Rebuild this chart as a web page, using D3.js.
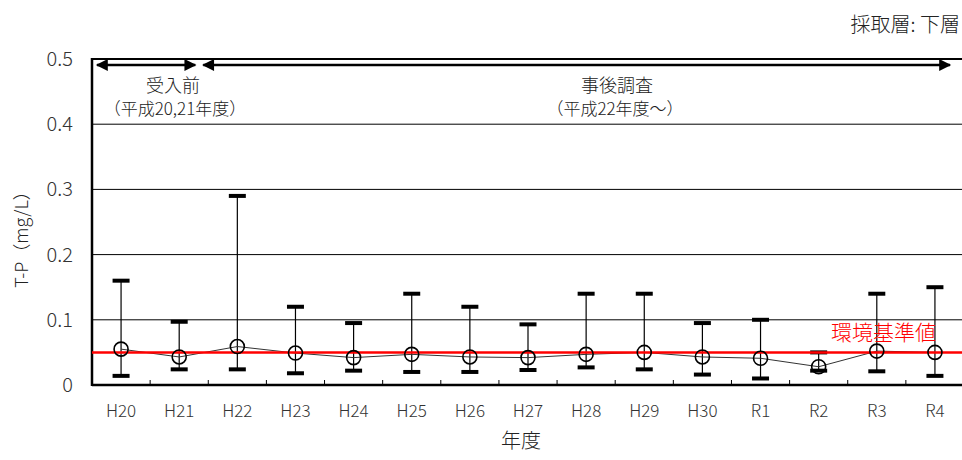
<!DOCTYPE html>
<html>
<head>
<meta charset="utf-8">
<script src="https://cdn.jsdelivr.net/npm/d3@7"></script>
<style>
  body { margin: 0; background: #fff; }
  text { font-family: "Noto Sans CJK JP", "Liberation Sans", sans-serif; font-weight: 300; }
</style>
</head>
<body>
<svg width="962" height="460"></svg>
<script>
// 年度
const years = ['H20', 'H21', 'H22', 'H23', 'H24', 'H25', 'H26', 'H27', 'H28', 'H29', 'H30', 'R1', 'R2', 'R3', 'R4']
// T-P mean / max / min (mg/L)
const meanVals = [0.055, 0.043, 0.059, 0.049, 0.042, 0.047, 0.043, 0.042, 0.047, 0.050, 0.043, 0.041, 0.028, 0.052, 0.050]
const maxVals = [0.16, 0.097, 0.29, 0.12, 0.095, 0.14, 0.12, 0.093, 0.14, 0.14, 0.095, 0.10, 0.050, 0.14, 0.15]
const minVals = [0.014, 0.024, 0.024, 0.018, 0.022, 0.020, 0.020, 0.023, 0.027, 0.024, 0.016, 0.010, 0.022, 0.021, 0.014]
const yTicks = [0, 0.1, 0.2, 0.3, 0.4, 0.5]
const standard = 0.05

const svg = d3.select('svg')
const pLeft = 92, pRight = 964, pTop = 59, pBottom = 385

const x = d3.scaleBand().domain(years).range([pLeft, pRight])
const y = d3.scaleLinear().domain([0, 0.5]).range([pBottom, pTop])
const cx = d => x(d) + x.bandwidth() / 2

// grid lines
svg.append('g').selectAll('line').data(yTicks.filter(t => t > 0))
  .enter().append('line')
  .attr('x1', pLeft).attr('x2', pRight)
  .attr('y1', d => y(d)).attr('y2', d => y(d))
  .attr('stroke', '#000').attr('stroke-width', d => d === 0.5 ? 2 : 1)

// y tick labels
svg.append('g').selectAll('text').data(yTicks)
  .enter().append('text')
  .attr('x', 73).attr('y', d => y(d) + 7)
  .attr('text-anchor', 'end')
  .attr('font-size', 20).attr('fill', '#333')
  .text(d => d === 0 ? '0' : d3.format('.1f')(d))

// axes frame
svg.append('line').attr('x1', pLeft).attr('x2', pLeft).attr('y1', pTop - 1).attr('y2', pBottom + 1)
  .attr('stroke', '#000').attr('stroke-width', 2.5)
svg.append('line').attr('x1', pLeft).attr('x2', pRight).attr('y1', pBottom).attr('y2', pBottom)
  .attr('stroke', '#000').attr('stroke-width', 2.5)

// small ticks between categories
svg.append('g').selectAll('line').data(years.slice(1))
  .enter().append('line')
  .attr('x1', d => x(d)).attr('x2', d => x(d))
  .attr('y1', pBottom).attr('y2', pBottom - 5)
  .attr('stroke', '#000').attr('stroke-width', 1)

// x labels
svg.append('g').selectAll('text').data(years)
  .enter().append('text')
  .attr('x', d => cx(d)).attr('y', 417)
  .attr('text-anchor', 'middle')
  .attr('font-size', 17).attr('fill', '#333')
  .text(d => d)

// axis titles
svg.append('text').attr('transform', 'translate(28,235) rotate(-90)')
  .attr('text-anchor', 'middle').attr('font-size', 18).attr('fill', '#222')
  .text('T-P（mg/L）')
svg.append('text').attr('x', 521).attr('y', 448)
  .attr('text-anchor', 'middle').attr('font-size', 20).attr('fill', '#222')
  .text('年度')

svg.append('text').attr('x', 960).attr('y', 32)
  .attr('text-anchor', 'end').attr('font-size', 20).attr('fill', '#222')
  .text('採取層: 下層')

// error bars
const bars = svg.append('g')
years.forEach((d, i) => {
  bars.append('line')
    .attr('x1', cx(d)).attr('x2', cx(d))
    .attr('y1', y(maxVals[i])).attr('y2', y(minVals[i]))
    .attr('stroke', '#000').attr('stroke-width', 1.2)
  ;[maxVals[i], minVals[i]].forEach(v => {
    bars.append('line')
      .attr('x1', cx(d) - 8.5).attr('x2', cx(d) + 8.5)
      .attr('y1', y(v)).attr('y2', y(v))
      .attr('stroke', '#000').attr('stroke-width', 4)
  })
})

// mean line
const line = d3.line().x((d, i) => cx(years[i])).y(d => y(d))
svg.append('path').datum(meanVals).attr('d', line)
  .attr('fill', 'none').attr('stroke', '#333').attr('stroke-width', 1)

// standard line
svg.append('line').attr('x1', pLeft).attr('x2', pRight)
  .attr('y1', y(standard)).attr('y2', y(standard))
  .attr('stroke', '#ff0000').attr('stroke-width', 2.5)
svg.append('text').attr('x', 936).attr('y', y(standard) - 12)
  .attr('text-anchor', 'end').attr('font-size', 21).attr('fill', '#ff0000')
  .text('環境基準値')

// mean markers
svg.append('g').selectAll('circle').data(meanVals)
  .enter().append('circle')
  .attr('cx', (d, i) => cx(years[i])).attr('cy', d => y(d))
  .attr('r', 7).attr('fill', 'none').attr('stroke', '#000').attr('stroke-width', 1.6)

// period arrows
svg.append('defs').append('marker')
  .attr('id', 'head').attr('viewBox', '0 0 10 10').attr('refX', 9).attr('refY', 5)
  .attr('markerWidth', 18).attr('markerHeight', 12).attr('markerUnits', 'userSpaceOnUse')
  .attr('orient', 'auto-start-reverse')
  .append('path').attr('d', 'M0,0 L10,5 L0,10 Z').attr('fill', '#000')

const periods = [
  { x1: x('H20') + 5, x2: x('H22') - 13, label: '受入前', sub: '（平成20,21年度）' },
  { x1: x('H22') - 5, x2: pRight - 14, label: '事後調査', sub: '（平成22年度～）' }
]
periods.forEach(p => {
  svg.append('line').attr('x1', p.x1).attr('x2', p.x2).attr('y1', 65).attr('y2', 65)
    .attr('stroke', '#000').attr('stroke-width', 2.5)
    .attr('marker-start', 'url(#head)').attr('marker-end', 'url(#head)')
})
svg.append('text').attr('x', 173).attr('y', 92).attr('text-anchor', 'middle')
  .attr('font-size', 18).attr('fill', '#222').text(periods[0].label)
svg.append('text').attr('x', 175).attr('y', 115).attr('text-anchor', 'middle')
  .attr('font-size', 17).attr('fill', '#222').text(periods[0].sub)
svg.append('text').attr('x', 617).attr('y', 92).attr('text-anchor', 'middle')
  .attr('font-size', 18).attr('fill', '#222').text(periods[1].label)
svg.append('text').attr('x', 615).attr('y', 115).attr('text-anchor', 'middle')
  .attr('font-size', 17).attr('fill', '#222').text(periods[1].sub)
</script>
</body>
</html>
